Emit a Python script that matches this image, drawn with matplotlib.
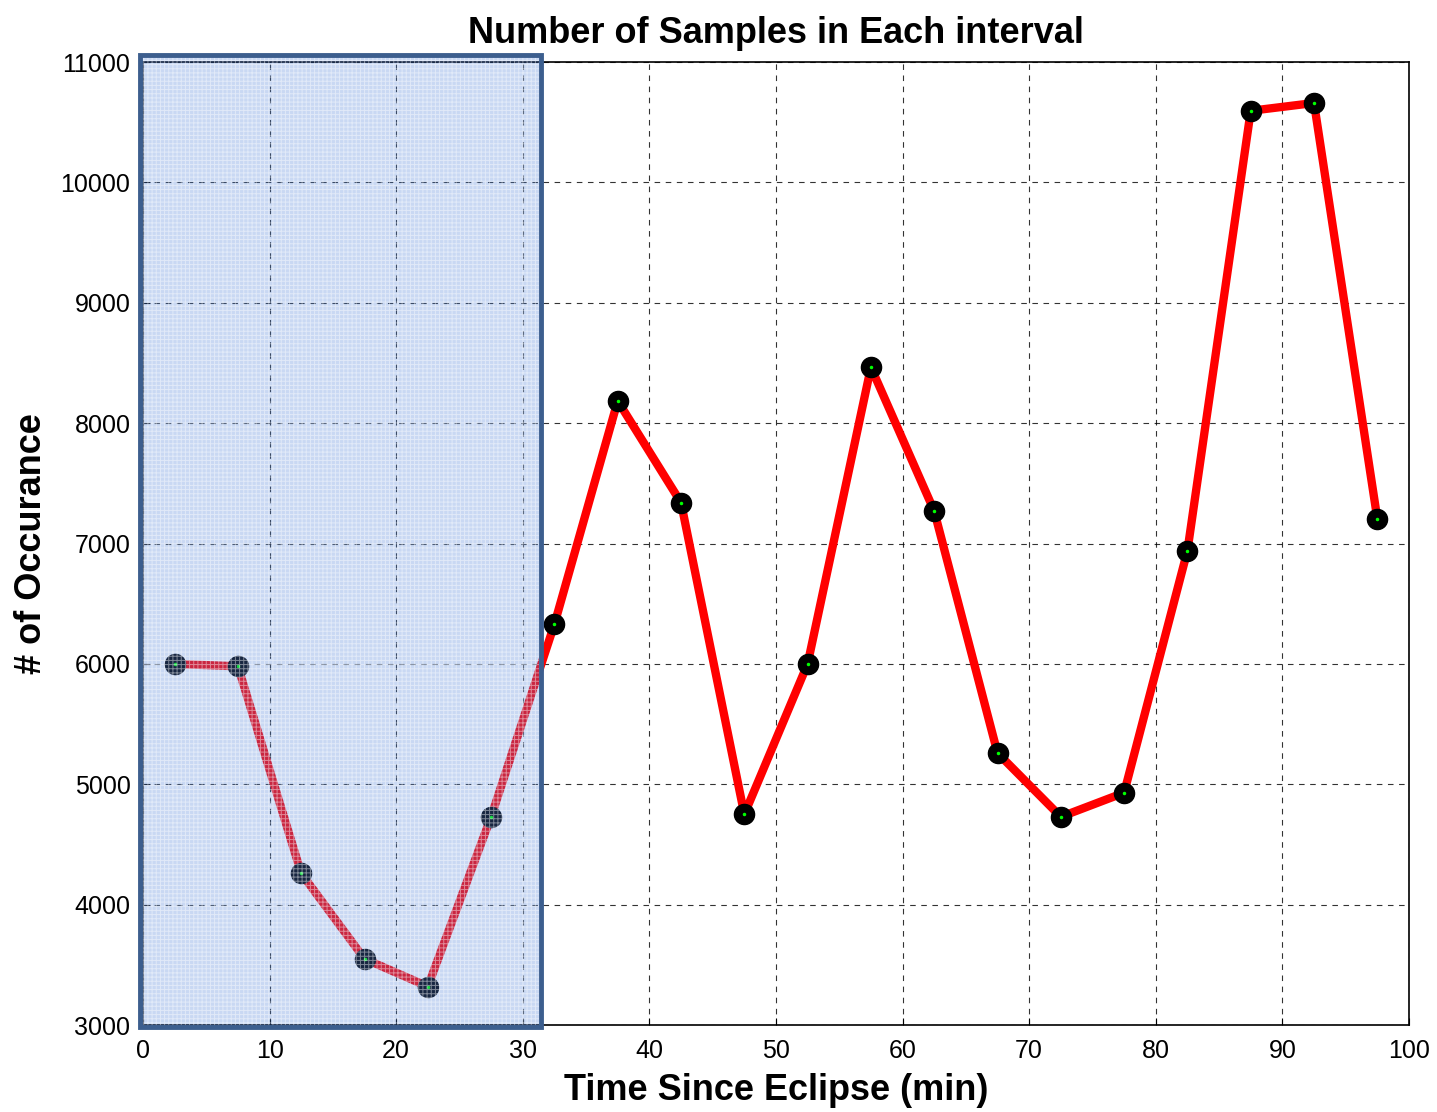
import matplotlib.pyplot as plt
from matplotlib.patches import Rectangle

plt.rcParams['font.family'] = ['Liberation Sans', 'DejaVu Sans']

minutes = [2.5, 7.5, 12.5, 17.5, 22.5, 27.5, 32.5, 37.5, 42.5, 47.5,
           52.5, 57.5, 62.5, 67.5, 72.5, 77.5, 82.5, 87.5, 92.5, 97.5]
counts = [6000, 5980, 4260, 3550, 3320, 4730, 6330, 8185, 7340, 4750,
          6000, 8465, 7270, 5260, 4730, 4930, 6940, 10595, 10660, 7205]
eclipse_end = 31.4

fig = plt.figure(figsize=(14.37, 11.12), dpi=100)
ax = fig.add_axes([0.0995, 0.0782, 0.881, 0.866])

ax.plot(minutes, counts, '-', color='red', lw=6, zorder=3)
ax.plot(minutes, counts, 'o', ms=14.5, mfc='black', mec='black', zorder=4)
ax.plot(minutes, counts, '.', ms=3, color='#00ff00', zorder=5)

# shaded eclipse window
plt.rcParams['hatch.linewidth'] = 0.7
shade = Rectangle((-0.25, 2985), eclipse_end + 0.25, 11060 - 2985,
                  facecolor=(0.3, 0.5, 0.85, 0.3), edgecolor=(1, 1, 1, 0.45),
                  hatch='++++', lw=0, zorder=6, clip_on=False)
ax.add_patch(shade)
border = Rectangle((-0.25, 2985), eclipse_end + 0.25, 11060 - 2985,
                   facecolor='none', edgecolor='#3c5e8e', lw=3.5,
                   zorder=7, clip_on=False)
ax.add_patch(border)

ax.set_xlim(0, 100)
ax.set_ylim(3000, 11000)
ax.set_xticks(range(0, 101, 10))
ax.set_yticks(range(3000, 11001, 1000))
ax.tick_params(direction='in', labelsize=18, length=5)
ax.tick_params(axis='x', pad=10)
ax.tick_params(axis='y', pad=9)
ax.grid(True, color='black', linestyle=(0, (5, 5)), lw=0.8, alpha=0.8)
for s in ax.spines.values():
    s.set_linewidth(1.2)

ax.set_title('Number of Samples in Each interval', fontsize=26,
             fontweight='bold', pad=14)
ax.set_xlabel('Time Since Eclipse (min)', fontsize=26, fontweight='bold',
              labelpad=7)
ax.set_ylabel('# of Occurance', fontsize=26, fontweight='bold', labelpad=8)

fig.savefig('out.png', dpi=100)
